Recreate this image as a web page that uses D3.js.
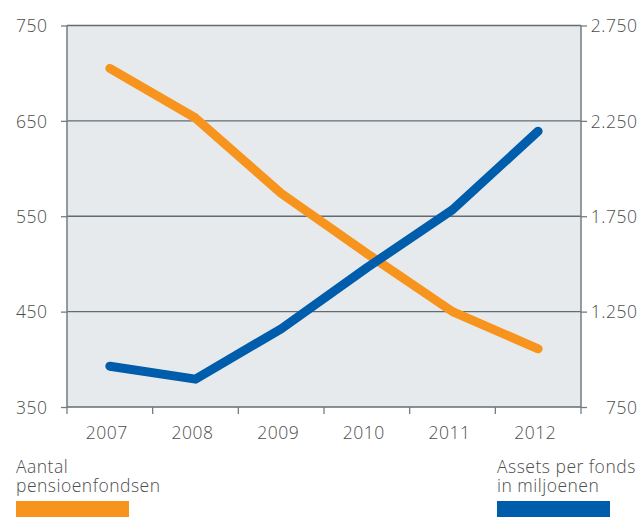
<!DOCTYPE html>
<html>
<head>
<meta charset="utf-8">
<script src="https://cdn.jsdelivr.net/npm/d3@7"></script>
<style>
  html, body { margin: 0; padding: 0; background: #ffffff; }
  svg { display: block; }
  text { font-family: "Open Sans", Lato, sans-serif; font-weight: 300; fill: #4d4d4d; letter-spacing: 0.5px; }
</style>
</head>
<body>
<svg id="chart" width="643" height="530"></svg>
<script>
const years = ["2007", "2008", "2009", "2010", "2011", "2012"];
const pensionFunds = [705, 653, 574, 511, 450, 411];          // Aantal pensioenfondsen (left axis)
const assetsPerFund = [964, 896, 1160, 1480, 1784, 2196];     // Assets per fonds in miljoenen (right axis)
const leftTicks = [350, 450, 550, 650, 750];
const rightTicks = [750, 1250, 1750, 2250, 2750];
const legendLeft = ["Aantal", "pensioenfondsen"];
const legendRight = ["Assets per fonds", "in miljoenen"];

const svg = d3.select("#chart");
const plot = { left: 67, right: 581, top: 25.5, bottom: 407 };
const orange = "#f7941d", blue = "#005dab";
const gridColor = "#626c70";
const FONT = "'Open Sans', Lato, sans-serif";

const nl = d3.formatLocale({ decimal: ",", thousands: ".", grouping: [3], currency: ["€", ""] });
const fmt = nl.format(",d");

const x = d3.scaleBand().domain(years).range([plot.left, plot.right]);
const yL = d3.scaleLinear().domain([350, 750]).range([plot.bottom, plot.top]);
const yR = d3.scaleLinear().domain([750, 2750]).range([plot.bottom, plot.top]);

// background
svg.append("rect")
  .attr("x", plot.left).attr("y", plot.top)
  .attr("width", plot.right - plot.left).attr("height", plot.bottom - plot.top)
  .attr("fill", "#e7eaed");

// gridlines
svg.append("g").selectAll("line").data(leftTicks).join("line")
  .attr("x1", plot.left).attr("x2", plot.right)
  .attr("y1", d => yL(d)).attr("y2", d => yL(d))
  .attr("stroke", gridColor).attr("stroke-width", 1.3);

// left axis
const gL = svg.append("g").attr("transform", `translate(${plot.left},0)`)
  .call(d3.axisLeft(yL).tickValues(leftTicks).tickSize(6).tickPadding(13.5).tickFormat(d3.format("d")));
// right axis
const gR = svg.append("g").attr("transform", `translate(${plot.right},0)`)
  .call(d3.axisRight(yR).tickValues(rightTicks).tickSize(6).tickPadding(14).tickFormat(fmt));
gR.selectAll("text").attr("text-anchor", "end").attr("x", 56.5);

[gL, gR].forEach(g => {
  g.select(".domain").attr("stroke", "#737c80").attr("stroke-width", 1.5)
    .attr("d", `M0,${plot.top}V${plot.bottom}`);
  g.selectAll(".tick line").attr("stroke", "#737c80").attr("stroke-width", 1.3);
  g.selectAll("text").attr("font-size", 17.5).attr("fill", "#4d4d4d").attr("dy", "0.36em")
    .style("font-family", FONT).style("font-weight", 300);
});

// bottom ticks at band boundaries
const bounds = years.map(d => x(d)).concat([x.range()[1]]);
svg.append("g").selectAll("line").data(bounds).join("line")
  .attr("x1", d => d).attr("x2", d => d)
  .attr("y1", plot.bottom).attr("y2", plot.bottom + 7)
  .attr("stroke", "#737c80").attr("stroke-width", 1.3);

svg.append("g").selectAll("text").data(years).join("text")
  .attr("x", d => x(d) + x.bandwidth() / 2 - 3)
  .attr("y", 438.5)
  .attr("text-anchor", "middle")
  .attr("font-size", 17.5)
  .text(d => d);

// lines
const lineL = d3.line().x((d, i) => x(years[i]) + x.bandwidth() / 2).y(d => yL(d));
const lineR = d3.line().x((d, i) => x(years[i]) + x.bandwidth() / 2).y(d => yR(d));

svg.append("path").datum(pensionFunds).attr("d", lineL)
  .attr("fill", "none").attr("stroke", orange).attr("stroke-width", 9)
  .attr("stroke-linecap", "round").attr("stroke-linejoin", "round");
svg.append("path").datum(assetsPerFund).attr("d", lineR)
  .attr("fill", "none").attr("stroke", blue).attr("stroke-width", 9)
  .attr("stroke-linecap", "round").attr("stroke-linejoin", "round");

// legends
function legend(xPos, lines, color) {
  const g = svg.append("g");
  g.selectAll("text").data(lines).join("text")
    .attr("x", xPos).attr("y", (d, i) => 473.3 + i * 18.5)
    .attr("font-size", 17.5).text(d => d);
  g.append("rect").attr("x", xPos).attr("y", 501).attr("width", 113).attr("height", 16).attr("fill", color);
}
legend(16, legendLeft, orange);
legend(497, legendRight, blue);
</script>
</body>
</html>
